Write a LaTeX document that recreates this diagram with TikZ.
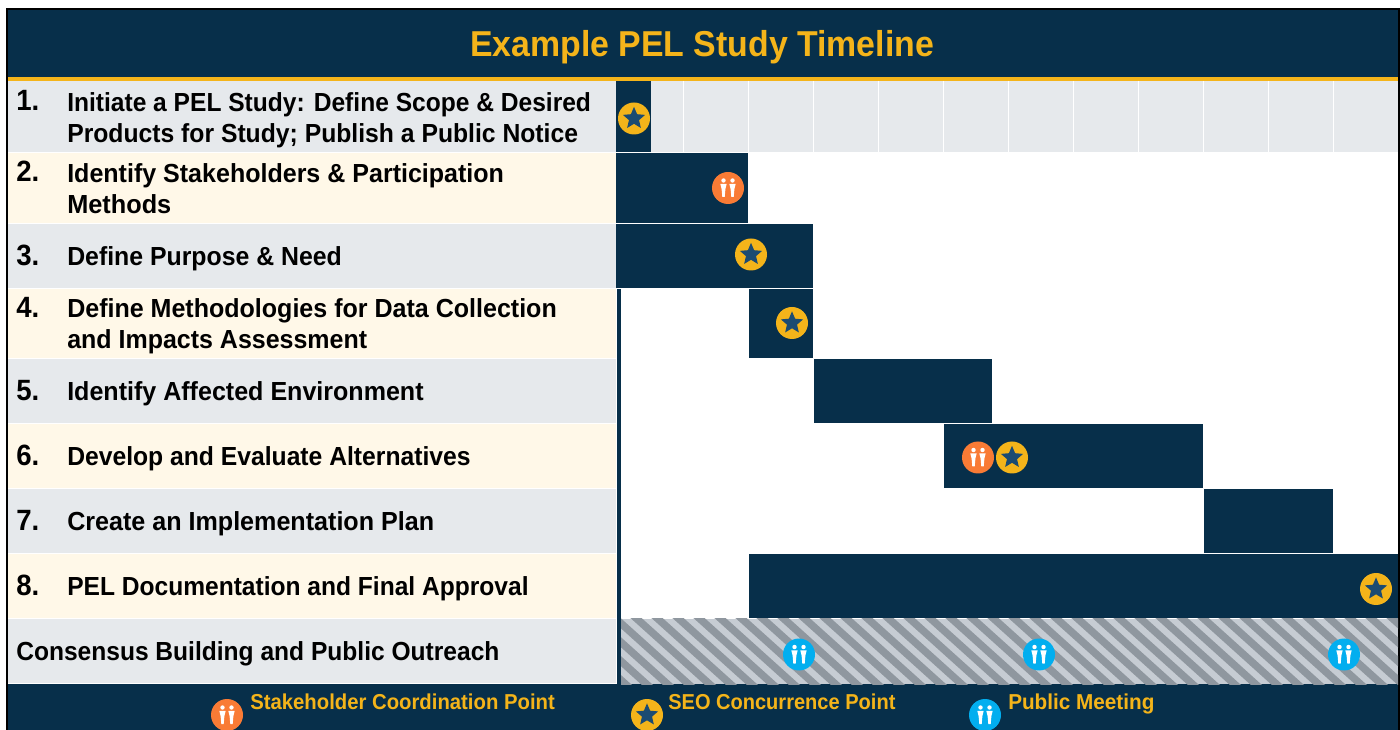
\documentclass[tikz,border=0pt]{standalone}
\usepackage{fontspec}
\usepackage{graphicx}
\setmainfont[FakeStretch=0.94]{Liberation Sans}
\usetikzlibrary{shapes.geometric}
\definecolor{navy}{HTML}{072F4A}
\definecolor{gold}{HTML}{F4B41A}
\definecolor{rowgrey}{HTML}{E6E9EC}
\definecolor{rowcream}{HTML}{FFF8E8}
\definecolor{starblue}{HTML}{1B4B72}
\definecolor{orangec}{HTML}{F97B35}
\definecolor{bluec}{HTML}{02AEEF}
\definecolor{hatchlight}{HTML}{C6CCD3}
\definecolor{hatchdark}{HTML}{8F979F}
\tikzset{
  x=0.75pt,y=-0.75pt,
  num/.style={font=\fontsize{22pt}{23pt}\selectfont\bfseries,anchor=base west,text=black,inner sep=0pt},
  lab/.style={font=\fontsize{19.6pt}{23.5pt}\selectfont\bfseries,anchor=base west,align=left,text=black,inner sep=0pt},
  leg/.style={font=\fontsize{16.2pt}{18pt}\selectfont\bfseries,anchor=base west,text=gold,inner sep=0pt},
  disc/.style={circle,minimum size=24pt,inner sep=0pt},
  sdisc/.style={disc,fill=gold},
  pin/.style={star,star points=5,star point ratio=2.2,minimum size=17.5pt,inner sep=0pt,fill=starblue},
}
\newcommand{\sx}[2]{\scalebox{#1}[1]{#2}}
\newcommand{\seo}[3]{\node[sdisc] (#1) at (#2,#3) {};\node[pin] at (#1.center) {};}
\newcommand{\person}[2]{%
  \fill[white] (#1,#2-7.5) circle[radius=2.2];
  \fill[white] (#1-3.2,#2-4.2) -- (#1+3.2,#2-4.2) -- (#1+1.9,#2+1) -- (#1+1.2,#2+9) -- (#1-1.2,#2+9) -- (#1-1.9,#2+1) -- cycle;}
\newcommand{\people}[4]{\node[disc,fill=#2] (#1) at (#3,#4) {};\person{#3-4.5}{#4}\person{#3+4.5}{#4}}
\begin{document}
\begin{tikzpicture}
\useasboundingbox (0,0) rectangle (1400,730);
\fill[white] (0,0) rectangle (1400,730);
% frame and title
\fill[navy] (6,8) rectangle (1399,730);
\draw[black,line width=1.5pt] (7,730) -- (7,9) -- (1399,9) -- (1399,730);
\fill[navy] (8,10) rectangle (1398,77);
\fill[gold] (8,77) rectangle (1398,81);
\node[font=\fontsize{27pt}{30pt}\selectfont\bfseries,text=gold,inner sep=0pt,anchor=base] (title) at (702,56.5) {Example PEL Study Timeline};
% rows
\fill[white] (8,81) rectangle (1398,684);
\fill[rowgrey] (8,81) rectangle (1398,152);
\fill[rowcream] (8,153) rectangle (616,223);
\fill[rowgrey] (8,224) rectangle (616,288);
\fill[rowcream] (8,289) rectangle (616,358);
\fill[rowgrey] (8,359) rectangle (616,423);
\fill[rowcream] (8,424) rectangle (616,488);
\fill[rowgrey] (8,489) rectangle (616,553);
\fill[rowcream] (8,554) rectangle (616,618);
\fill[rowgrey] (8,619) rectangle (616,683);
% grid in row 1
\foreach \gx in {683,748,...,1333} \draw[white,line width=0.75pt] (\gx,81) -- (\gx,152);
% bars
\fill[navy] (616,81) rectangle (651,152);
\fill[navy] (616,153) rectangle (748,223);
\fill[navy] (616,224) rectangle (813,288);
\fill[navy] (616.5,289) rectangle (621,684);
\fill[navy] (749,289) rectangle (813,358);
\fill[navy] (814,359) rectangle (992,423);
\fill[navy] (944,424) rectangle (1203,488);
\fill[navy] (1204,489) rectangle (1333,553);
\fill[navy] (749,554) rectangle (1398,618);
% hatch
\begin{scope}
\clip (621,619) rectangle (1398,684);
\fill[hatchlight] (621,619) rectangle (1398,684);
\foreach \k in {-6,...,40}
  \draw[hatchdark,line width=5.6pt] ({626+21*\k},609) -- ({726+21*\k},699);
\end{scope}
% labels
\node[num] (n1) at (16,110.5) {1.};
\node[num] (n2) at (16,181.5) {2.};
\node[num] (n3) at (16,265.5) {3.};
\node[num] (n4) at (16,317.5) {4.};
\node[num] (n5) at (16,400.5) {5.};
\node[num] (n6) at (16,465.5) {6.};
\node[num] (n7) at (16,530.5) {7.};
\node[num] (n8) at (16,595.5) {8.};
\node[lab] (l1) at (67,143) {Initiate a PEL Study: Define Scope \& Desired\\\sx{1.006}{Products for Study; Publish a Public Notice}};
\node[lab] (l2) at (67,214) {\sx{1.019}{Identify Stakeholders \& Participation}\\\sx{1.03}{Methods}};
\node[lab] (l3) at (67,266) {\sx{1.011}{Define Purpose \& Need}};
\node[lab] (l4) at (67,349) {\sx{1.019}{Define Methodologies for Data Collection}\\\sx{1.017}{and Impacts Assessment}};
\node[lab] (l5) at (67,401) {\sx{1.02}{Identify Affected Environment}};
\node[lab] (l6) at (67,466) {\sx{1.005}{Develop and Evaluate Alternatives}};
\node[lab] (l7) at (67,531) {\sx{1.022}{Create an Implementation Plan}};
\node[lab] (l8) at (67,596) {PEL Documentation and Final Approval};
\node[lab] (l9) at (16,661) {Consensus Building and Public Outreach};
% icons
\seo{s1}{634}{118.5}
\people{p1}{orangec}{728}{188}
\seo{s2}{751}{254.5}
\seo{s3}{792}{323}
\people{p2}{orangec}{978}{457.5}
\seo{s4}{1012}{457.5}
\seo{s5}{1376}{589}
\people{b1}{bluec}{799}{654.5}
\people{b2}{bluec}{1039}{654.5}
\people{b3}{bluec}{1344}{654.5}
% legend
\people{lp}{orangec}{227}{715}
\node[leg] (t1) at (250,709) {Stakeholder Coordination Point};
\seo{ls}{647}{715}
\node[leg] (t2) at (668,709) {\sx{0.987}{SEO Concurrence Point}};
\people{lb}{bluec}{985}{715}
\node[leg] (t3) at (1008,709) {\sx{1.02}{Public Meeting}};
\end{tikzpicture}
\end{document}
